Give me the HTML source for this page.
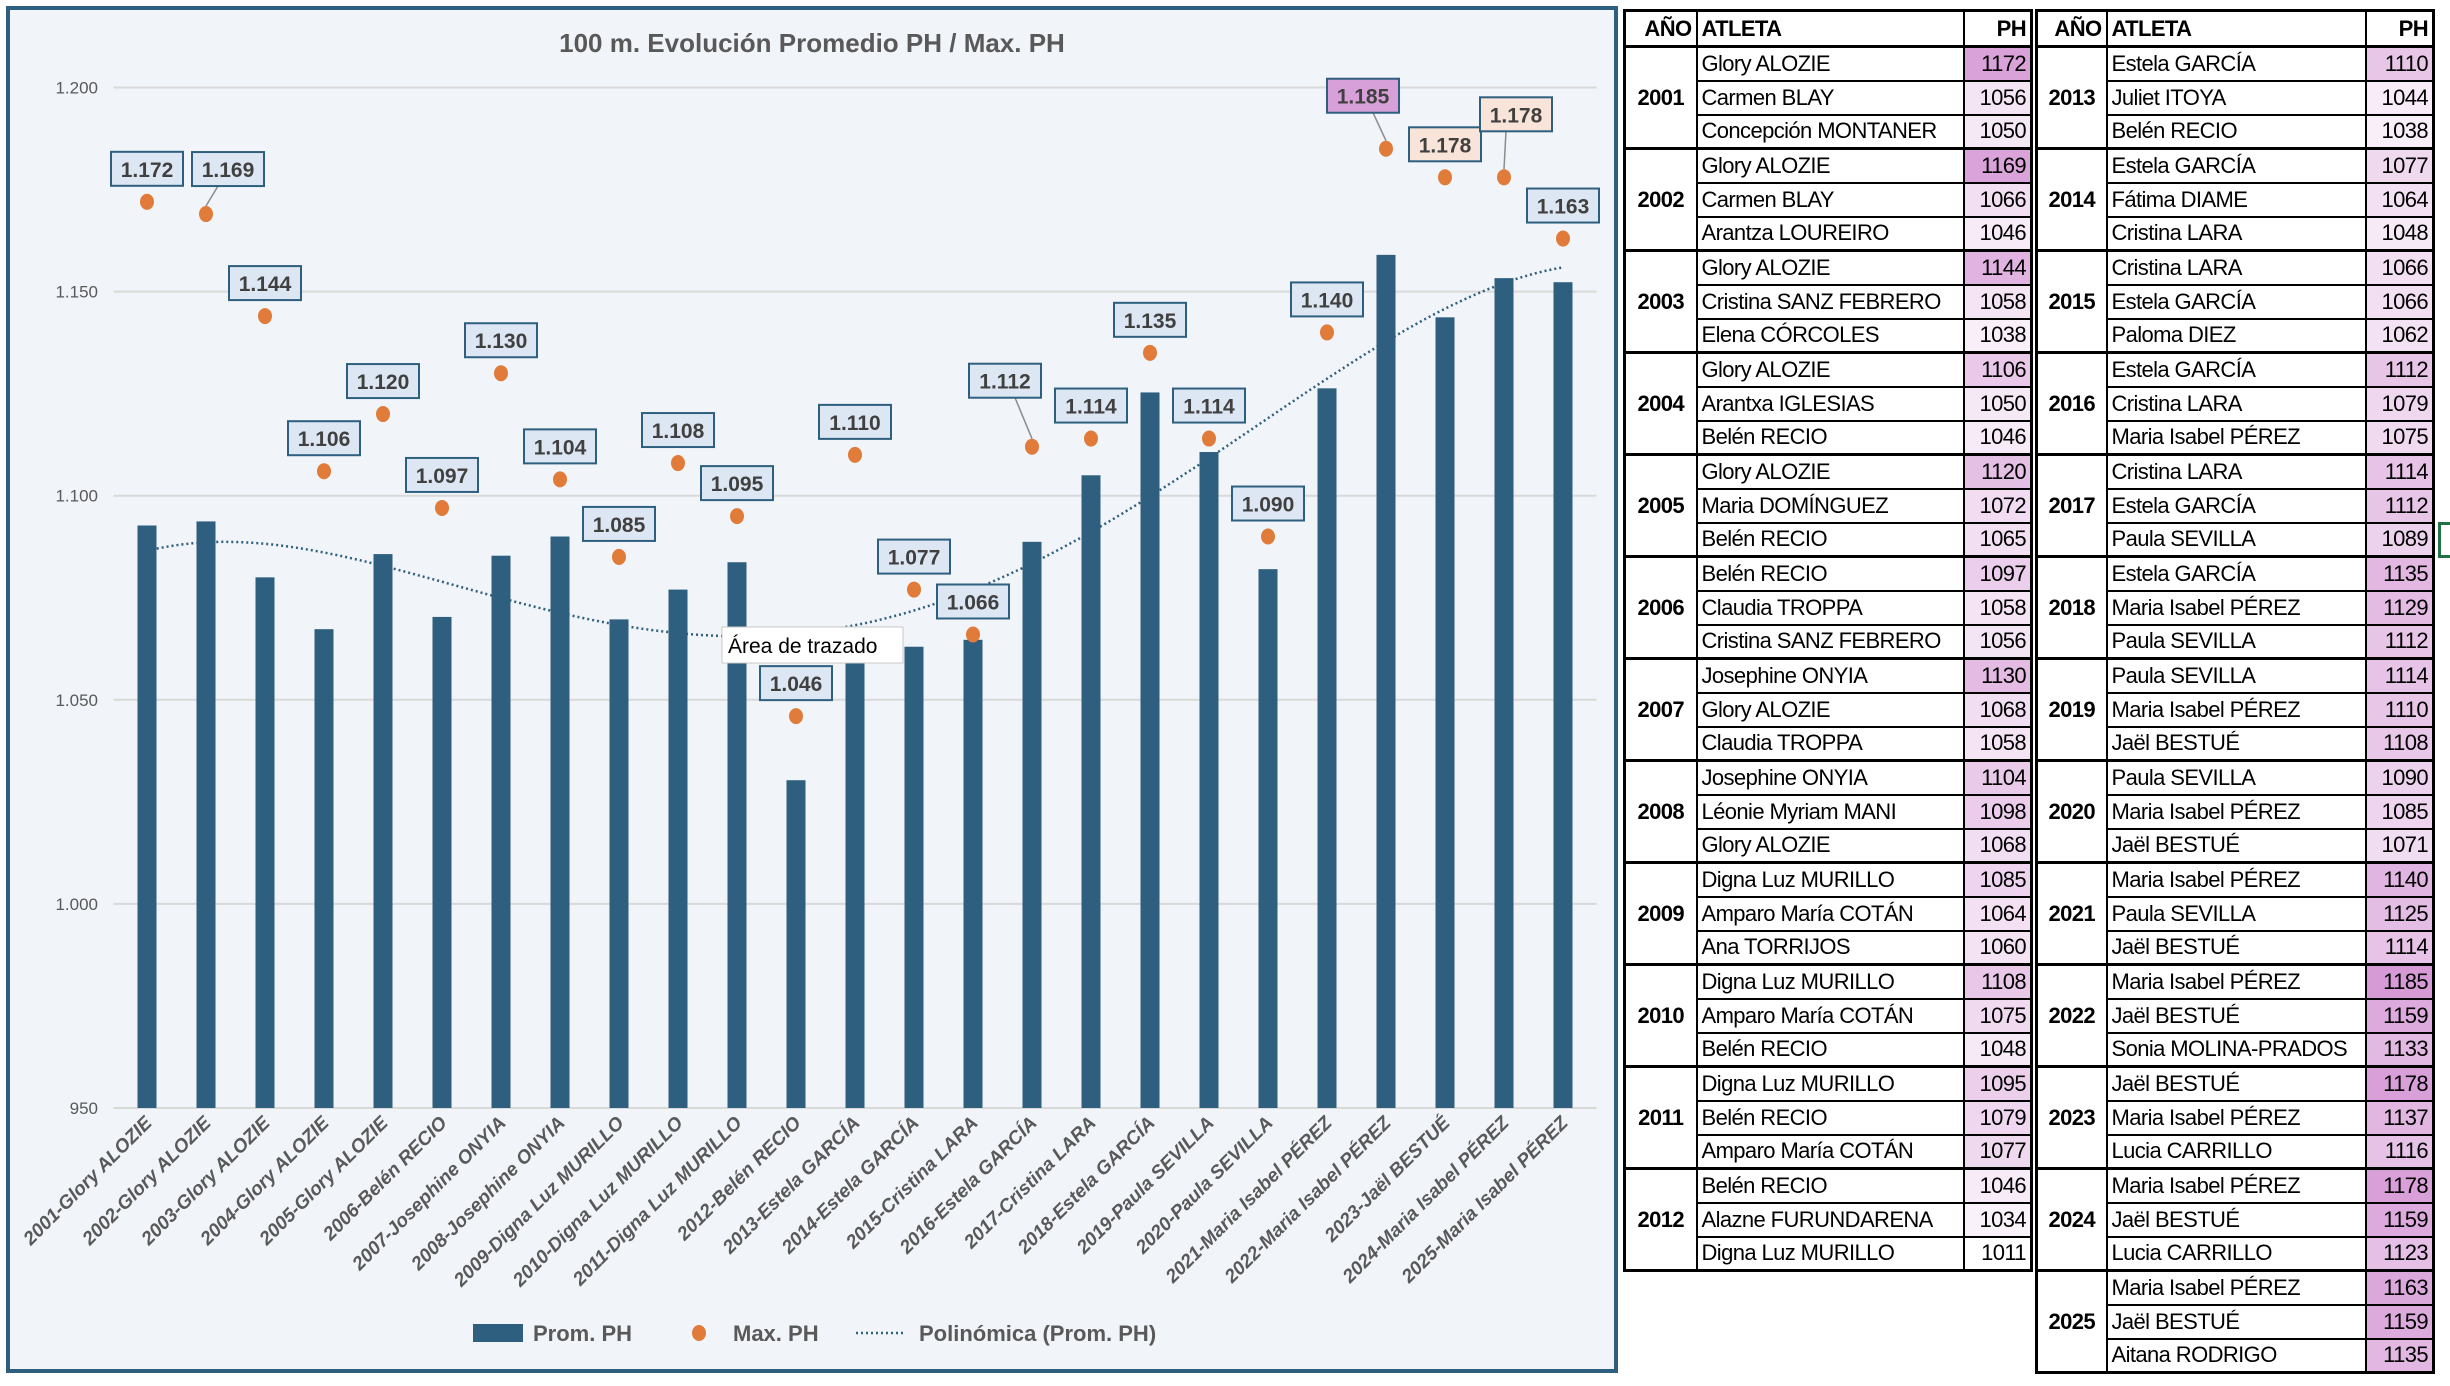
<!DOCTYPE html>
<html><head><meta charset="utf-8">
<style>
html,body{margin:0;padding:0;background:#fff;}
body{width:2450px;height:1386px;position:relative;overflow:hidden;font-family:"Liberation Sans",sans-serif;}
svg{position:absolute;left:0;top:0;}
table{position:absolute;border-collapse:collapse;table-layout:fixed;font-family:"Liberation Sans",sans-serif;font-size:22px;letter-spacing:-0.6px;}
td,th{border:2px solid #000;height:32px;padding:0 4px;line-height:30px;white-space:nowrap;box-sizing:border-box;overflow:hidden;}
tr{height:34px;}
tr.h{height:36px;}
th{font-weight:bold;}
td.y{font-weight:bold;text-align:center;padding:0;}
td.v{text-align:right;}
tr.g td{border-top:3px solid #000;}
</style></head>
<body>
<svg id="chart" width="2450" height="1386"></svg>

<table id="t1" style="left:1623px;top:9px;width:410px;border:3px solid #000;"></table>
<table id="t2" style="left:2035px;top:9px;width:400px;border:3px solid #000;"></table>
<div style="position:absolute;left:2438px;top:522px;width:12px;height:30px;border:3px solid #217346;border-right:none;"></div>

<script>
const years=[2001,2002,2003,2004,2005,2006,2007,2008,2009,2010,2011,2012,2013,2014,2015,2016,2017,2018,2019,2020,2021,2022,2023,2024,2025];
const athletes=[["Glory ALOZIE","Carmen BLAY","Concepción MONTANER"],["Glory ALOZIE","Carmen BLAY","Arantza LOUREIRO"],["Glory ALOZIE","Cristina SANZ FEBRERO","Elena CÓRCOLES"],["Glory ALOZIE","Arantxa IGLESIAS","Belén RECIO"],["Glory ALOZIE","Maria DOMÍNGUEZ","Belén RECIO"],["Belén RECIO","Claudia TROPPA","Cristina SANZ FEBRERO"],["Josephine ONYIA","Glory ALOZIE","Claudia TROPPA"],["Josephine ONYIA","Léonie Myriam MANI","Glory ALOZIE"],["Digna Luz MURILLO","Amparo María COTÁN","Ana TORRIJOS"],["Digna Luz MURILLO","Amparo María COTÁN","Belén RECIO"],["Digna Luz MURILLO","Belén RECIO","Amparo María COTÁN"],["Belén RECIO","Alazne FURUNDARENA","Digna Luz MURILLO"],["Estela GARCÍA","Juliet ITOYA","Belén RECIO"],["Estela GARCÍA","Fátima DIAME","Cristina LARA"],["Cristina LARA","Estela GARCÍA","Paloma DIEZ"],["Estela GARCÍA","Cristina LARA","Maria Isabel PÉREZ"],["Cristina LARA","Estela GARCÍA","Paula SEVILLA"],["Estela GARCÍA","Maria Isabel PÉREZ","Paula SEVILLA"],["Paula SEVILLA","Maria Isabel PÉREZ","Jaël BESTUÉ"],["Paula SEVILLA","Maria Isabel PÉREZ","Jaël BESTUÉ"],["Maria Isabel PÉREZ","Paula SEVILLA","Jaël BESTUÉ"],["Maria Isabel PÉREZ","Jaël BESTUÉ","Sonia MOLINA-PRADOS"],["Jaël BESTUÉ","Maria Isabel PÉREZ","Lucia CARRILLO"],["Maria Isabel PÉREZ","Jaël BESTUÉ","Lucia CARRILLO"],["Maria Isabel PÉREZ","Jaël BESTUÉ","Aitana RODRIGO"]];
const marks=[[1172,1056,1050],[1169,1066,1046],[1144,1058,1038],[1106,1050,1046],[1120,1072,1065],[1097,1058,1056],[1130,1068,1058],[1104,1098,1068],[1085,1064,1060],[1108,1075,1048],[1095,1079,1077],[1046,1034,1011],[1110,1044,1038],[1077,1064,1048],[1066,1066,1062],[1112,1079,1075],[1114,1112,1089],[1135,1129,1112],[1114,1110,1108],[1090,1085,1071],[1140,1125,1114],[1185,1159,1133],[1178,1137,1116],[1178,1159,1123],[1163,1159,1135]];
const categories=["2001-Glory ALOZIE","2002-Glory ALOZIE","2003-Glory ALOZIE","2004-Glory ALOZIE","2005-Glory ALOZIE","2006-Belén RECIO","2007-Josephine ONYIA","2008-Josephine ONYIA","2009-Digna Luz MURILLO","2010-Digna Luz MURILLO","2011-Digna Luz MURILLO","2012-Belén RECIO","2013-Estela GARCÍA","2014-Estela GARCÍA","2015-Cristina LARA","2016-Estela GARCÍA","2017-Cristina LARA","2018-Estela GARCÍA","2019-Paula SEVILLA","2020-Paula SEVILLA","2021-Maria Isabel PÉREZ","2022-Maria Isabel PÉREZ","2023-Jaël BESTUÉ","2024-Maria Isabel PÉREZ","2025-Maria Isabel PÉREZ"];
const promPH=[1092.7,1093.7,1080,1067.3,1085.7,1070.3,1085.3,1090,1069.7,1077,1083.7,1030.3,1064,1063,1064.7,1088.7,1105,1125.3,1110.7,1082,1126.3,1159,1143.7,1153.3,1152.3];
const maxPH=[1172,1169,1144,1106,1120,1097,1130,1104,1085,1108,1095,1046,1110,1077,1066,1112,1114,1135,1114,1090,1140,1185,1178,1178,1163];
const yTicks=[950,1000,1050,1100,1150,1200];
const yTickLabels=["950","1.000","1.050","1.100","1.150","1.200"];

const NS="http://www.w3.org/2000/svg";
const svg=document.getElementById('chart');
function el(tag,attrs,parent){const e=document.createElementNS(NS,tag);for(const k in attrs)e.setAttribute(k,attrs[k]);(parent||svg).appendChild(e);return e;}
const plotL=117.5,plotR=1592.5,yMin=950,yMax=1200,pTop=87.5,pBot=1108;
const band=(plotR-plotL)/categories.length;
const xC=i=>plotL+band*(i+0.5);
const yS=v=>pTop+(yMax-v)*(pBot-pTop)/(yMax-yMin);

let bg=el('rect',{x:8,y:8,width:1608,height:1363,fill:'#f1f4f9',stroke:'#2e5f7f','stroke-width':4});


let t=el('text',{x:812,y:52,'text-anchor':'middle','font-size':26,'font-weight':'bold',fill:'#595959'});
t.textContent='100 m. Evolución Promedio PH / Max. PH';



yTicks.forEach((v,i)=>{
  const g=el('line',{x1:plotL-4,x2:plotR+4,y1:yS(v),y2:yS(v),stroke:'#d9d9d9','stroke-width':2});
  
  
  const l=el('text',{x:98,y:yS(v)+6,'text-anchor':'end','font-size':17,fill:'#595959'});
  l.textContent=yTickLabels[i];
  
  
});

promPH.forEach((v,i)=>{
  const b=el('rect',{x:xC(i)-9.5,y:yS(v),width:19,height:pBot-yS(v),fill:'#2e5f7f'});
  
  
  const l=el('text',{x:0,y:0,'text-anchor':'end','font-size':19,'font-style':'italic','font-weight':'bold',fill:'#595959',transform:`translate(${xC(i)+6},${pBot+16}) rotate(-45)`});
  l.textContent=categories[i];
  
  
});

(function(){
  const n=promPH.length,deg=4,N=deg+1;
  const A=[];for(let r=0;r<N;r++){A.push(new Array(N+1).fill(0));}
  for(let i=0;i<n;i++){const x=i+1;for(let r=0;r<N;r++){for(let c=0;c<N;c++)A[r][c]+=Math.pow(x,r+c);A[r][N]+=Math.pow(x,r)*promPH[i];}}
  for(let c=0;c<N;c++){let p=c;for(let r=c+1;r<N;r++)if(Math.abs(A[r][c])>Math.abs(A[p][c]))p=r;[A[c],A[p]]=[A[p],A[c]];for(let r=0;r<N;r++){if(r===c)continue;const f=A[r][c]/A[c][c];for(let k=c;k<=N;k++)A[r][k]-=f*A[c][k];}}
  const co=A.map((row,i)=>row[N]/row[i]);
  let d='';
  for(let s=0;s<=240;s++){const x=1+s*(n-1)/240;let v=0;co.forEach((c,k)=>v+=c*Math.pow(x,k));const px=xC(x-1);d+=(s?'L':'M')+px.toFixed(1)+','+yS(v).toFixed(1);}
  const p=el('path',{d:d,fill:'none',stroke:'#2e5f7f','stroke-width':2.5,'stroke-dasharray':'2 3'});
  
  
})();

const labelDx=[0,22,0,0,0,0,0,0,0,0,0,0,0,0,0,-27,0,0,0,0,0,-23,0,12,0];
const labelDy=[-33,-45,-33,-33,-33,-33,-33,-33,-33,-33,-33,-33,-33,-33,-33,-66,-33,-33,-33,-33,-33,-53,-33,-63,-33];
maxPH.forEach((v,i)=>{
  const cx=xC(i),cy=yS(v);
  const lx=cx+labelDx[i],ly=cy+labelDy[i];
  if(labelDx[i]!==0){
    const ln=el('line',{x1:cx,y1:cy-8,x2:lx+(labelDx[i]>0?-10:10),y2:ly+17,stroke:'#8c8c8c','stroke-width':1.5});
    
    
  }
  const dot=el('ellipse',{cx:cx,cy:cy,rx:7,ry:8,fill:'#e07b39'});
  
  
  let fill='#dde7f3';
  if(i===21)fill='#d8a0d8';
  if(i===22||i===23)fill='#f8e4d8';
  const r=el('rect',{x:lx-36,y:ly-17,width:72,height:34,fill:fill,stroke:'#2e5f7f','stroke-width':2});
  
  
  const tx=el('text',{x:lx,y:ly+8,'text-anchor':'middle','font-size':21,'font-weight':'bold',fill:'#404040'});
  tx.textContent=(v/1000).toFixed(3);
  
  
});

let tip=el('rect',{x:722,y:627,width:181,height:36,fill:'#fff',stroke:'#c8c8c8','stroke-width':1});


let tipt=el('text',{x:728,y:653,'font-size':21,fill:'#000'});
tipt.textContent='Área de trazado';



let lg=el('rect',{x:473,y:1324,width:50,height:18,fill:'#2e5f7f'});


let lt=el('text',{x:533,y:1341,'font-size':22,'font-weight':'bold',fill:'#595959'});lt.textContent='Prom. PH';


let ld=el('ellipse',{cx:699,cy:1333,rx:7,ry:8,fill:'#e07b39'});


let lt2=el('text',{x:733,y:1341,'font-size':22,'font-weight':'bold',fill:'#595959'});lt2.textContent='Max. PH';


let ll=el('line',{x1:856,x2:906,y1:1333,y2:1333,stroke:'#2e5f7f','stroke-width':2.5,'stroke-dasharray':'2 3'});


let lt3=el('text',{x:919,y:1341,'font-size':22,'font-weight':'bold',fill:'#595959'});lt3.textContent='Polinómica (Prom. PH)';



function color(v){const f=Math.max(0,Math.min(1,(v-1011)/(1185-1011)));const c0=[255,255,255],c1=[214,155,214];return 'rgb('+c0.map((a,k)=>Math.round(a+(c1[k]-a)*f)).join(',')+')';}
function build(id,from,to,wy,wp){
  const tb=document.getElementById(id);
  let h='<colgroup><col style="width:'+wy+'px"><col><col style="width:'+wp+'px"></colgroup>';
  h+='<tr class="h"><th style="text-align:right">AÑO</th><th style="text-align:left">ATLETA</th><th style="text-align:right">PH</th></tr>';
  for(let i=from;i<to;i++){
    for(let k=0;k<3;k++){
      h+='<tr'+(k===0?' class="g"':'')+'>';
      if(k===0)h+='<td class="y" rowspan="3">'+years[i]+'</td>';
      h+='<td>'+athletes[i][k]+'</td><td class="v" style="background:'+color(marks[i][k])+'">'+marks[i][k]+'</td></tr>';
    }
  }
  tb.innerHTML=h;
}
build('t1',0,12,72,68);
build('t2',12,25,70,68);
</script>
</body></html>
